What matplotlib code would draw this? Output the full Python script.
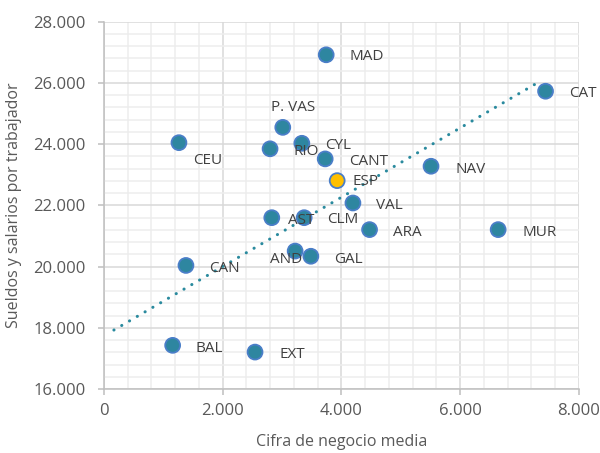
import matplotlib
matplotlib.use("Agg")
import matplotlib.pyplot as plt
from matplotlib.ticker import FuncFormatter, MultipleLocator

# ---- data ----
regions = ["MAD", "CAT", "P. VAS", "CEU", "RIO", "CYL", "CANT", "ESP", "NAV",
           "VAL", "ARA", "MUR", "AST", "CLM", "AND", "GAL", "CAN", "BAL", "EXT"]
cifra_negocio = [3744, 7437, 3013, 1265, 2799, 3334, 3727, 3929, 5509,
                 4194, 4474, 6639, 2828, 3373, 3221, 3486, 1383, 1159, 2546]
sueldos = [26920, 25730, 24550, 24050, 23850, 24030, 23520, 22810, 23280,
           22080, 21210, 21210, 21600, 21600, 20510, 20340, 20040, 17430, 17210]
trend_x = [170, 7340]
trend_y = [17930, 26050]
x_ticks = [0, 2000, 4000, 6000, 8000]
y_ticks = [16000, 18000, 20000, 22000, 24000, 26000, 28000]

# label offsets in pixels (dx, dy), style only
label_offsets = {
    "MAD": (23, -2), "CAT": (24, -2), "P. VAS": (-12, 20), "CEU": (14, -18),
    "RIO": (23, -3), "CYL": (23, -2), "CANT": (24, -3), "ESP": (15, -1),
    "NAV": (24, -3), "VAL": (23, -3), "ARA": (23, -3), "MUR": (24, -3),
    "AST": (16, -3), "CLM": (23, -2), "AND": (-25, -8), "GAL": (23, -3),
    "CAN": (23, -3), "BAL": (23, -3), "EXT": (24, -2),
}

plt.rcParams['font.family'] = ['Open Sans', 'DejaVu Sans']

fig = plt.figure(figsize=(6.0, 4.53), dpi=100)
ax = fig.add_axes([0.173, 0.141, 0.792, 0.811])

ax.set_xlim(0, 8000)
ax.set_ylim(16000, 28000)

# grid
ax.xaxis.set_major_locator(MultipleLocator(2000))
ax.yaxis.set_major_locator(MultipleLocator(2000))
ax.xaxis.set_minor_locator(MultipleLocator(400))
ax.yaxis.set_minor_locator(MultipleLocator(400))
ax.grid(which='major', color='#D9D9D9', linewidth=1.1, zorder=0)
ax.grid(which='minor', color='#EDEDED', linewidth=1.1, zorder=0)
ax.set_axisbelow(True)
ax.set_xticks(x_ticks)
ax.set_yticks(y_ticks)

for s in ['top', 'right']:
    ax.spines[s].set_visible(False)
for s in ['left', 'bottom']:
    ax.spines[s].set_color('#BFBFBF')
    ax.spines[s].set_linewidth(1.1)

fmt = FuncFormatter(lambda v, p: f"{int(v):,}".replace(",", "."))
ax.xaxis.set_major_formatter(fmt)
ax.yaxis.set_major_formatter(fmt)
ax.tick_params(which='major', length=4, width=1.1, color='#BFBFBF',
               labelsize=12, labelcolor='#595959')
ax.tick_params(axis='x', pad=6)
ax.tick_params(axis='y', pad=9)
ax.tick_params(which='minor', length=0)

# trend line
ax.plot(trend_x, trend_y, color='#2A8A9E', linewidth=2.2,
        linestyle=(0, (0.05, 2.9)), dash_capstyle='round', zorder=2)

# points
colors = ['#FFC000' if r == "ESP" else '#2E86A0' for r in regions]
ax.scatter(cifra_negocio, sueldos, s=115, c=colors, edgecolors='#4A7EC8',
           linewidths=1.3, zorder=3)

for r, x, y in zip(regions, cifra_negocio, sueldos):
    dx, dy = label_offsets[r]
    ax.annotate(r, (x, y), xytext=(dx, dy), textcoords='offset pixels',
                ha='left', va='center', fontsize=11, color='#404040', zorder=4)

ax.set_xlabel("Cifra de negocio media", fontsize=11.5, color='#595959', va='center')
ax.xaxis.set_label_coords(0.5, -0.144)
ax.set_ylabel("Sueldos y salarios por trabajador", fontsize=11.5, color='#595959',
              va='center')
ax.yaxis.set_label_coords(-0.189, 0.5)

fig.savefig("out.png", dpi=100)
